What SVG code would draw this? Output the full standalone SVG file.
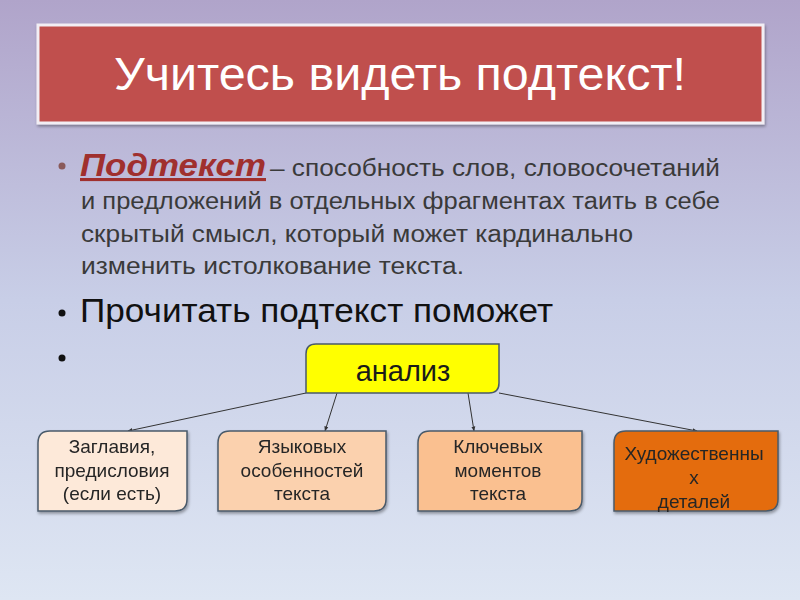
<svg xmlns="http://www.w3.org/2000/svg" width="800" height="600" viewBox="0 0 800 600">
<defs>
<linearGradient id="bg" x1="0" y1="0" x2="0" y2="1">
<stop offset="0" stop-color="#B0A4CA"/>
<stop offset="0.5" stop-color="#C8CEE7"/>
<stop offset="1" stop-color="#DEE6F3"/>
</linearGradient>
<marker id="arr" viewBox="0 0 10 10" refX="9" refY="5" markerWidth="5" markerHeight="5" orient="auto">
<path d="M0,1 L10,5 L0,9 z" fill="#333"/>
</marker>
<filter id="sh" x="-10%" y="-10%" width="120%" height="130%">
<feDropShadow dx="1" dy="2" stdDeviation="1.5" flood-color="#000" flood-opacity="0.35"/>
</filter>
</defs>
<style>
.box{stroke:#4A5A6A;stroke-width:1.5}
.bt{font-family:"Liberation Sans",Arial,sans-serif;font-size:19px;fill:#262626;text-anchor:middle}
.body{font-family:"Liberation Sans",Arial,sans-serif;fill:#3A3A3A}
.conn{stroke:#333;stroke-width:1;fill:none;marker-end:url(#arr)}
</style>
<rect width="800" height="600" fill="url(#bg)"/>
<g id="title">
<rect x="38" y="25" width="725" height="98" fill="#C0504D" stroke="#F2EEF4" stroke-width="3" filter="url(#sh)"/>
<text x="400" y="90" font-family="Liberation Sans,Arial,sans-serif" font-size="46" fill="#fff" text-anchor="middle" textLength="572" lengthAdjust="spacingAndGlyphs">Учитесь видеть подтекст!</text>
</g>
<g id="bullets">
<circle cx="62" cy="166" r="3.5" fill="#8A5A5A"/>
<text x="80" y="176" font-family="Liberation Sans,Arial,sans-serif" font-size="31" font-weight="bold" font-style="italic" fill="#A0302E" text-decoration="underline" textLength="186" lengthAdjust="spacingAndGlyphs">Подтекст</text>
<text class="body" x="270" y="176" font-size="23" textLength="450" lengthAdjust="spacingAndGlyphs">– способность слов, словосочетаний</text>
<text class="body" x="81" y="209" font-size="23" textLength="639" lengthAdjust="spacingAndGlyphs">и предложений в отдельных фрагментах таить в себе</text>
<text class="body" x="81" y="242" font-size="23" textLength="552" lengthAdjust="spacingAndGlyphs">скрытый смысл, который может кардинально</text>
<text class="body" x="81" y="274" font-size="23" textLength="383" lengthAdjust="spacingAndGlyphs">изменить истолкование текста.</text>
<circle cx="62" cy="313" r="3.5" fill="#111"/>
<text x="80" y="322" font-family="Liberation Sans,Arial,sans-serif" font-size="34" fill="#111" textLength="473" lengthAdjust="spacingAndGlyphs">Прочитать подтекст поможет</text>
<circle cx="62" cy="358" r="3.5" fill="#111"/>
</g>
<g id="connectors">
<line class="conn" x1="306" y1="393" x2="128" y2="431"/>
<line class="conn" x1="337" y1="393" x2="325" y2="431"/>
<line class="conn" x1="468" y1="393" x2="474" y2="431"/>
<line class="conn" x1="499" y1="393" x2="697" y2="431"/>
</g>
<g id="analiz">
<path class="box" d="M316,344 H499 V383 Q499,393 489,393 H306 V354 Q306,344 316,344 Z" fill="#FFFF00" stroke="#5A6A5A"/>
<text x="403" y="381" font-family="Liberation Sans,Arial,sans-serif" font-size="29" fill="#1A1A1A" text-anchor="middle">анализ</text>
</g>
<g id="n1" filter="url(#sh)">
<path class="box" d="M50,431 H187 V499 Q187,511 175,511 H38 V443 Q38,431 50,431 Z" fill="#FDE9D9"/>
<text class="bt" x="112" y="453">Заглавия,</text>
<text class="bt" x="112" y="477">предисловия</text>
<text class="bt" x="112" y="500">(если есть)</text>
</g>
<g id="n2" filter="url(#sh)">
<path class="box" d="M230,431 H386 V499 Q386,511 374,511 H218 V443 Q218,431 230,431 Z" fill="#FBD1AE"/>
<text class="bt" x="302" y="453">Языковых</text>
<text class="bt" x="302" y="477">особенностей</text>
<text class="bt" x="302" y="500">текста</text>
</g>
<g id="n3" filter="url(#sh)">
<path class="box" d="M430,431 H582 V499 Q582,511 570,511 H418 V443 Q418,431 430,431 Z" fill="#FAC090"/>
<text class="bt" x="498" y="453">Ключевых</text>
<text class="bt" x="498" y="477">моментов</text>
<text class="bt" x="498" y="500">текста</text>
</g>
<g id="n4" filter="url(#sh)">
<path class="box" d="M626,431 H778 V499 Q778,511 766,511 H614 V443 Q614,431 626,431 Z" fill="#E46C0A"/>
<text class="bt" x="694" y="460">Художественны</text>
<text class="bt" x="694" y="484">х</text>
<text class="bt" x="694" y="508">деталей</text>
</g>
</svg>
